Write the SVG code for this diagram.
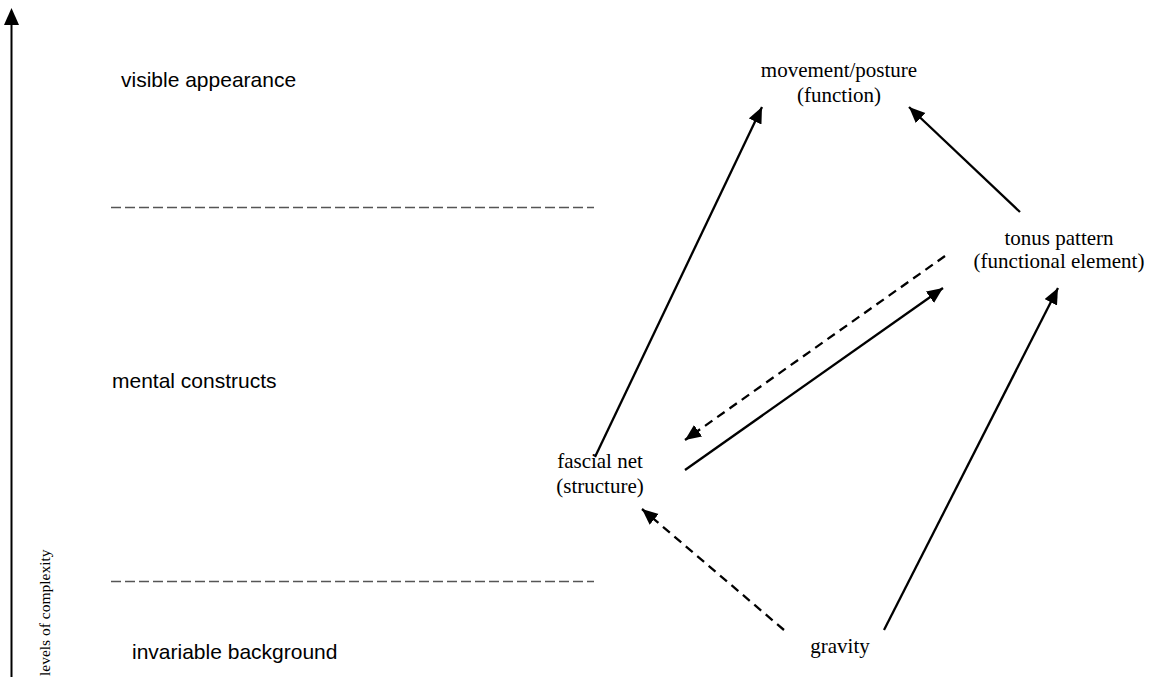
<svg xmlns="http://www.w3.org/2000/svg" width="1149" height="677" viewBox="0 0 1149 677">
<style>
.sans{font-family:"Liberation Sans",Arial,sans-serif;font-size:21px;fill:#000}
.serif{font-family:"Liberation Serif","Times New Roman",serif;font-size:21px;fill:#000;text-anchor:middle}
.rot{font-family:"Liberation Serif","Times New Roman",serif;font-size:15.5px;fill:#000}
.level{stroke:#555;stroke-width:1.3;stroke-dasharray:10,4;fill:none}
.arr{stroke:#000;stroke-width:2.3;fill:none;marker-end:url(#ah)}
.dash{stroke-dasharray:9,6}
</style>
<defs>
<marker id="ah" markerUnits="userSpaceOnUse" markerWidth="17" markerHeight="15" refX="16" refY="7" orient="auto">
<path d="M0,0 L16,7 L0,14 Z" fill="#000"/>
</marker>
</defs>
<rect width="1149" height="677" fill="#fff"/>
<g id="axis">
<line x1="11.5" y1="677" x2="11.5" y2="22" stroke="#000" stroke-width="2"/>
<polygon points="11.5,8 4,25 19,25" fill="#000"/>
<text class="rot" transform="translate(50,676) rotate(-90)">levels of complexity</text>
</g>
<g id="levels">
<line class="level" x1="111" y1="207.5" x2="594" y2="207.5"/>
<line class="level" x1="111" y1="581.5" x2="594" y2="581.5"/>
<text class="sans" x="121" y="87">visible appearance</text>
<text class="sans" x="112" y="388">mental constructs</text>
<text class="sans" x="132" y="659">invariable background</text>
</g>
<g id="movement"><text class="serif" x="839" y="77">movement/posture</text><text class="serif" x="839" y="102">(function)</text></g>
<g id="tonus"><text class="serif" x="1059" y="245">tonus pattern</text><text class="serif" x="1059" y="268">(functional element)</text></g>
<g id="fascial"><text class="serif" x="600" y="468">fascial net</text><text class="serif" x="600" y="493">(structure)</text></g>
<g id="gravity"><text class="serif" x="840" y="653">gravity</text></g>
<g id="connectors">
<line class="arr" x1="595" y1="457" x2="762" y2="107"/>
<line class="arr" x1="1020" y1="212" x2="909" y2="107"/>
<line class="arr dash" x1="945" y1="256" x2="685" y2="440"/>
<line class="arr" x1="685" y1="470" x2="943" y2="288"/>
<line class="arr dash" x1="784" y1="630" x2="642" y2="509"/>
<line class="arr" x1="884" y1="630" x2="1058" y2="288"/>
</g>
</svg>
